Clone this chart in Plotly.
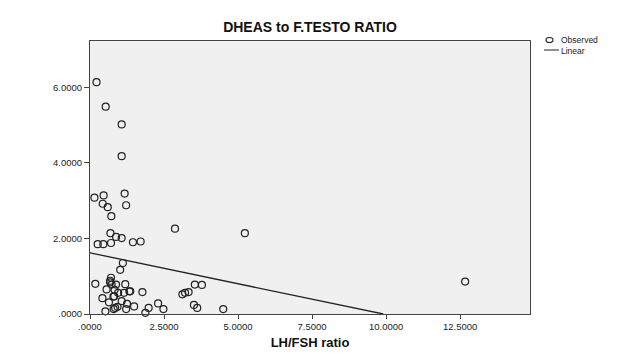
import plotly.graph_objects as go

# LH/FSH ratio (x) and DHEAS to F.TESTO ratio (y)
lh_fsh = [0.22, 0.53, 1.07, 1.07, 0.15, 0.46, 1.17, 0.43, 0.60, 1.22,
          0.72, 0.69, 2.87, 5.23, 0.88, 1.07, 0.26, 0.45, 0.71, 1.45,
          1.71, 1.11, 1.02, 12.67, 0.18, 0.71, 0.68, 0.68, 0.73, 0.88,
          1.19, 0.56, 0.83, 0.95, 1.15, 1.33, 1.77, 0.42, 0.79, 0.64,
          1.07, 1.25, 1.49, 0.85, 0.80, 1.22, 0.52, 1.87, 1.98, 2.30,
          2.48, 3.12, 3.21, 3.33, 3.54, 3.78, 3.51, 3.62, 4.50, 0.82,
          1.36, 0.93]
dheas_testo = [6.14, 5.49, 5.02, 4.18, 3.08, 3.14, 3.19, 2.92, 2.83, 2.88,
               2.59, 2.14, 2.26, 2.14, 2.04, 2.01, 1.85, 1.85, 1.88, 1.90,
               1.92, 1.35, 1.17, 0.86, 0.80, 0.96, 0.88, 0.84, 0.78, 0.78,
               0.79, 0.65, 0.64, 0.56, 0.56, 0.60, 0.58, 0.42, 0.46, 0.31,
               0.34, 0.27, 0.20, 0.16, 0.13, 0.13, 0.07, 0.03, 0.16, 0.28,
               0.13, 0.52, 0.56, 0.58, 0.78, 0.77, 0.24, 0.16, 0.13, 0.47,
               0.60, 0.19]

# Linear fit parameters
fit_intercept = 1.62
fit_slope = -0.1636

x_tickvals = [0, 2.5, 5, 7.5, 10, 12.5]
x_ticktext = [".0000", "2.5000", "5.0000", "7.5000", "10.0000", "12.5000"]
y_tickvals = [0, 2, 4, 6]
y_ticktext = [".0000", "2.0000", "4.0000", "6.0000"]
legend_labels = ["Observed", "Linear"]

x_end = -fit_intercept / fit_slope
line_x = [0, x_end]
line_y = [fit_intercept + fit_slope * v for v in line_x]

FONT = "Liberation Sans, Arial, sans-serif"
PL, PR, PT, PB = 90, 530, 41, 314  # plot box in pixels


def px(x):
    return (x - PL) / (PR - PL)


def py(y):
    return (PB - y) / (PB - PT)


fig = go.Figure()
fig.add_trace(go.Scatter(
    x=lh_fsh, y=dheas_testo, mode="markers", name=legend_labels[0],
    marker=dict(symbol="circle-open", size=7, color="#222222", line=dict(width=1.2)),
    cliponaxis=False, showlegend=False,
))
fig.add_trace(go.Scatter(
    x=line_x, y=line_y, mode="lines", name=legend_labels[1],
    line=dict(color="#222222", width=1.3), showlegend=False,
))

# legend drawn with shapes/annotation in paper space
fig.add_shape(type="circle", xref="paper", yref="paper",
              x0=px(546), x1=px(553), y0=py(42.5), y1=py(37.5),
              line=dict(color="#222222", width=1.2))
fig.add_shape(type="line", xref="paper", yref="paper",
              x0=px(544), x1=px(559), y0=py(50), y1=py(50),
              line=dict(color="#222222", width=1))
fig.add_annotation(text="<br>".join(legend_labels), xref="paper", yref="paper",
                   x=px(560), y=py(34), xanchor="left", yanchor="top",
                   align="left", showarrow=False, borderpad=0,
                   font=dict(size=8.5, color="#222222", family=FONT))

fig.update_layout(
    width=622, height=354,
    margin=dict(l=PL, r=622 - PR, t=PT, b=354 - PB),
    paper_bgcolor="white", plot_bgcolor="#F0F0F0",
    font=dict(family=FONT, color="#222222", size=9.5),
    title=dict(text="<b>DHEAS to F.TESTO RATIO</b>", x=0.5, xref="paper",
               y=1 - 27 / 354, yanchor="middle",
               font=dict(size=14, family=FONT, color="#111111")),
    xaxis=dict(range=[0, 14.86], tickvals=x_tickvals, ticktext=x_ticktext,
               showgrid=False, zeroline=False, showline=True, mirror=True,
               linecolor="#444444", linewidth=1, ticks="outside", ticklen=4,
               tickcolor="#444444", automargin=False,
               title=dict(text="<b>LH/FSH ratio</b>", standoff=6,
                          font=dict(size=13, family=FONT, color="#111111"))),
    yaxis=dict(range=[0, 7.23], tickvals=y_tickvals, ticktext=y_ticktext,
               showgrid=False, zeroline=False, showline=True, mirror=True,
               linecolor="#444444", linewidth=1, ticks="outside", ticklen=5,
               tickcolor="#444444", automargin=False),
)

fig.write_html("out.html")
